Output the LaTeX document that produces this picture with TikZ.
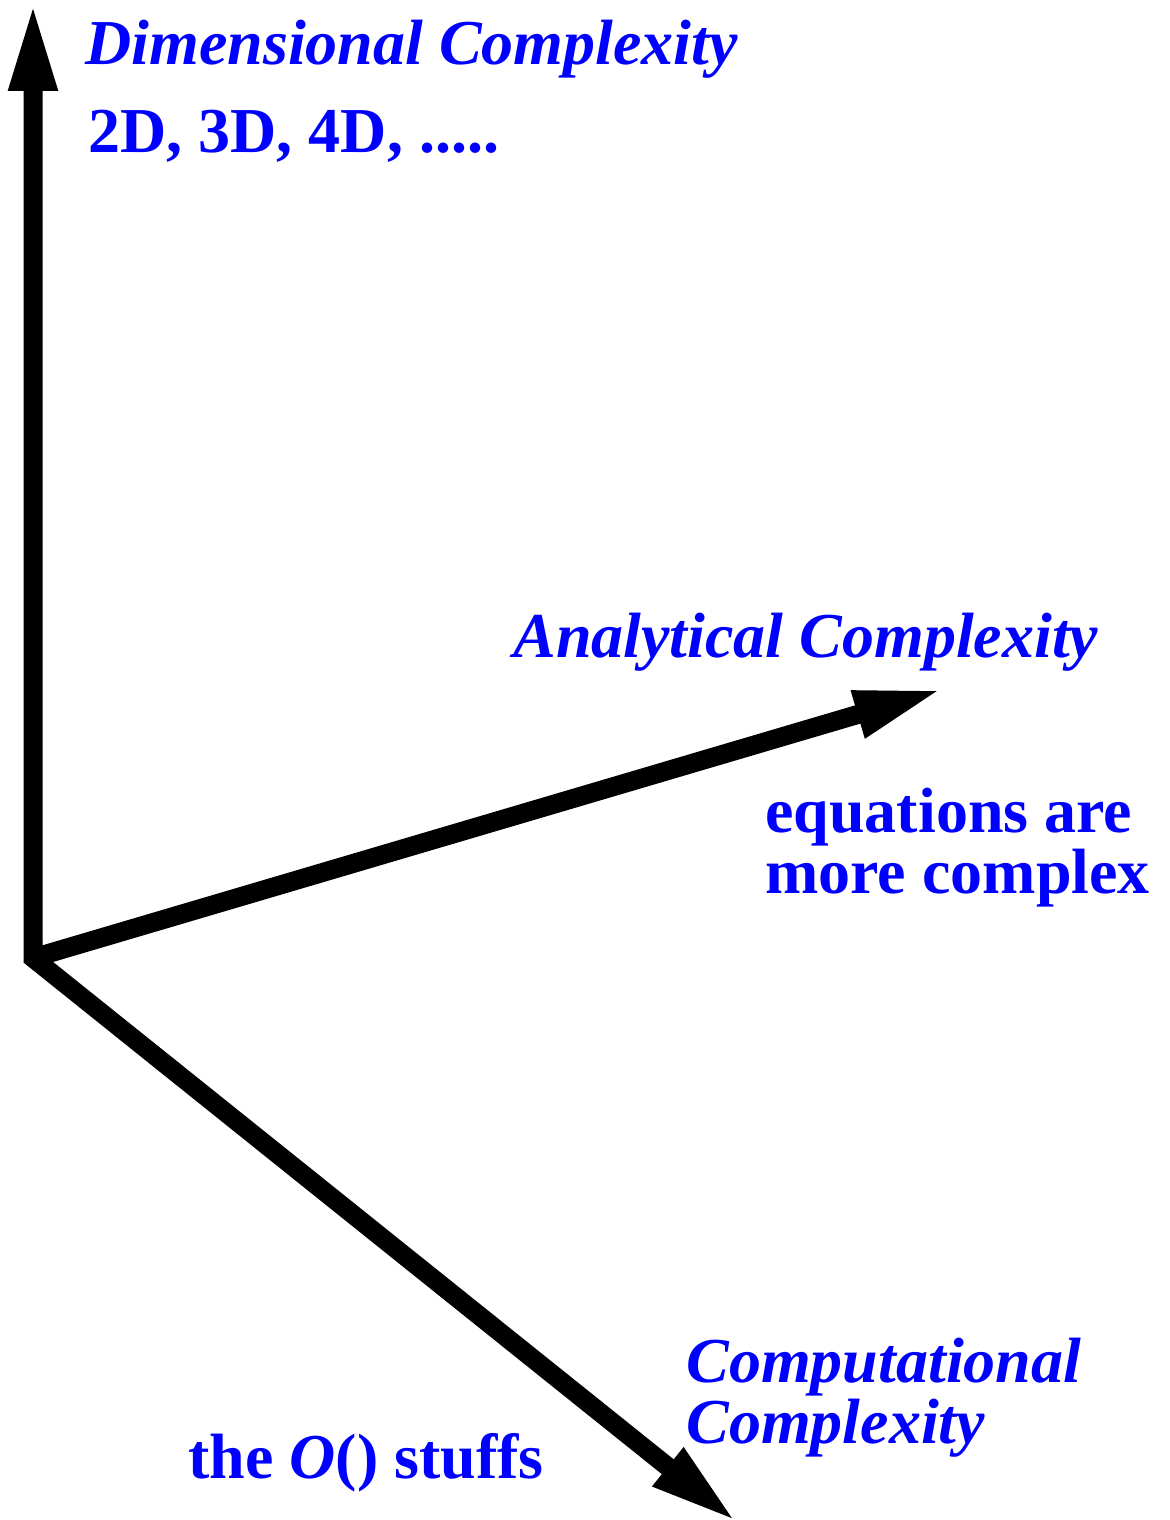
\documentclass[tikz,border=0pt]{standalone}
\usepackage{fontspec}
\setmainfont{Liberation Serif}
\usetikzlibrary{arrows.meta,positioning}

\begin{document}
\begin{tikzpicture}[x=0.5pt,y=-0.5pt,
  lbl/.style={text=blue,font=\fontsize{32}{30.5}\selectfont\bfseries,anchor=base west,inner sep=0pt,align=left},
  ilbl/.style={lbl,font=\fontsize{32}{30.5}\selectfont\bfseries\itshape},
  axis/.style={line width=9.5pt,line join=miter,-{Triangle[length=45pt,width=22pt]}}]
\useasboundingbox (0,0) rectangle (1170,1520);
% the three axes
\coordinate (o) at (33,958);
\coordinate (up) at (33,1);
\coordinate (right) at (944,689);
\coordinate (down) at (738,1523);
\draw[axis] (o) -- (right);
\draw[axis,{Triangle[length=45pt,width=22pt]}-{Triangle[length=45pt,width=22pt]}] (up) -- (o) -- (down);
% labels
\node[ilbl] (dim) at (85,65) {Dimensional Complexity};
\node[lbl] (dimex) at (88,153) {2D, 3D, 4D, .....};
\node[ilbl] (ana) at (513,657) {Analytical Complexity};
\node[lbl] (anaex) at (765,893) {equations are\\more complex};
\node[ilbl] (comp) at (686,1443) {Computational\\Complexity};
\node[lbl] (compex) at (188,1478) {the \textit{O}() stuffs};
\end{tikzpicture}
\end{document}
